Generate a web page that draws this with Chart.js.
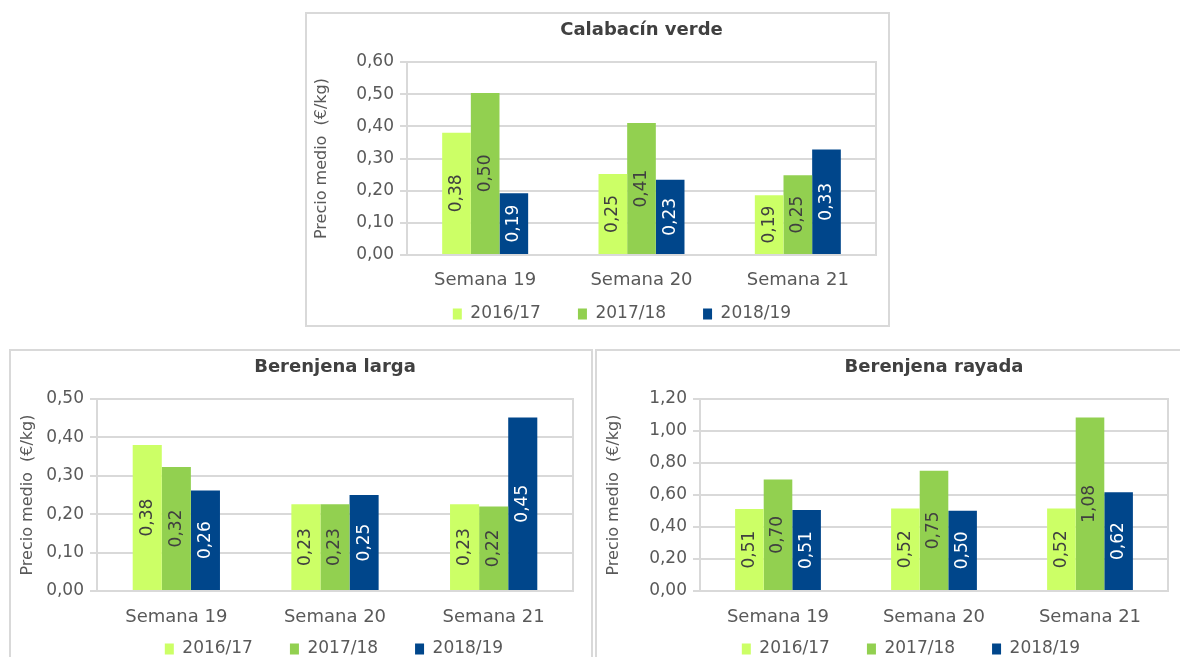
<!DOCTYPE html>
<html>
<head>
<meta charset="utf-8">
<script src="https://cdn.jsdelivr.net/npm/chart.js@4"></script>
<style>
body { margin: 0; background: #fff; width: 1180px; height: 657px; overflow: hidden; position: relative; }
.box { position: absolute; border: 2px solid #d9d9d9; box-sizing: border-box; }
canvas { position: absolute; }
</style>
</head>
<body>
<div class="box" style="left:305px;top:12px;width:585px;height:315px"></div>
<div class="box" style="left:9px;top:349px;width:584px;height:330px"></div>
<div class="box" style="left:595px;top:349px;width:600px;height:330px"></div>
<canvas id="calabacin" style="left:305px;top:12px"></canvas>
<canvas id="larga" style="left:10px;top:350px"></canvas>
<canvas id="rayada" style="left:596px;top:350px"></canvas>
<script>
const categories = ['Semana 19', 'Semana 20', 'Semana 21'];
const seasons = ['2016/17', '2017/18', '2018/19'];

const calabacin_1617 = [0.38, 0.252, 0.186];
const calabacin_1718 = [0.504, 0.41, 0.248];
const calabacin_1819 = [0.192, 0.234, 0.328];

const larga_1617 = [0.38, 0.226, 0.226];
const larga_1718 = [0.323, 0.226, 0.22];
const larga_1819 = [0.262, 0.25, 0.452];

const rayada_1617 = [0.512, 0.516, 0.516];
const rayada_1718 = [0.697, 0.752, 1.084];
const rayada_1819 = [0.506, 0.502, 0.617];

const seasonColors = ['#ccff66', '#92d050', '#00468b'];
const labelColors = ['#404040', '#404040', '#ffffff'];

const LEGEND_PAD = 37;
const X_AXIS_H = 40;

Chart.defaults.font.family = "'DejaVu Sans', sans-serif";

function fmt(v) {
    return (Math.round(v * 100) / 100).toFixed(2).replace('.', ',');
}

function bar_chart(id, title, s1, s2, s3, yMax, yStep, geo) {
    const canvas = document.getElementById(id);
    canvas.width = geo.w;
    canvas.height = geo.bottom + X_AXIS_H + 17 + LEGEND_PAD + 10;
    const ctx = canvas.getContext('2d');

    // light grey frame round the plot area
    const frame = {
        id: 'frame',
        beforeDatasetsDraw(chart) {
            const a = chart.chartArea, c = chart.ctx;
            c.save();
            c.strokeStyle = '#d9d9d9';
            c.lineWidth = 2;
            c.strokeRect(a.left, a.top, a.right - a.left, a.bottom - a.top);
            c.restore();
        }
    };
    // rotated value inside every bar
    const barValues = {
        id: 'barValues',
        afterDatasetsDraw(chart) {
            const c = chart.ctx;
            chart.data.datasets.forEach((ds, i) => {
                chart.getDatasetMeta(i).data.forEach((bar, j) => {
                    c.save();
                    c.translate(bar.x, (bar.y + bar.base) / 2);
                    c.rotate(-Math.PI / 2);
                    c.font = "17px 'DejaVu Sans'";
                    c.fillStyle = labelColors[i];
                    c.textAlign = 'center';
                    c.textBaseline = 'middle';
                    c.fillText(fmt(ds.data[j]), 0, 0);
                    c.restore();
                });
            });
        }
    };
    // move the legend row to where it sits in the original
    const legendShift = {
        id: 'legendShift',
        afterLayout(chart) {
            const lg = chart.legend;
            const s = geo.legendX - (lg.left + lg.right) / 2;
            lg.left += s;
            lg.right += s;
            lg.top = geo.legendY - 8.5 - LEGEND_PAD;
            lg.bottom = lg.top + lg.height;
        }
    };

    return new Chart(ctx, {
        type: 'bar',
        data: {
            labels: categories,
            datasets: [s1, s2, s3].map((d, i) => ({
                label: seasons[i],
                data: d,
                backgroundColor: seasonColors[i],
                borderWidth: 0,
                categoryPercentage: 0.55,
                barPercentage: 1
            }))
        },
        options: {
            responsive: false,
            animation: false,
            layout: { padding: { left: 0, right: geo.w - geo.right, top: geo.titleY - 10.8, bottom: 0 } },
            plugins: {
                title: {
                    display: true,
                    text: title,
                    fullSize: false,
                    color: '#404040',
                    font: { size: 18, weight: 'bold' },
                    padding: { top: 0, bottom: geo.top - (geo.titleY - 10.8) - 21.6 }
                },
                legend: {
                    position: 'bottom',
                    labels: { boxWidth: 9, boxHeight: 11, padding: LEGEND_PAD, color: '#595959', font: { size: 17 } }
                },
                tooltip: { enabled: false }
            },
            scales: {
                x: {
                    grid: { display: false, drawTicks: false },
                    border: { display: false },
                    ticks: { color: '#595959', font: { size: 18 }, padding: geo.xLabelY - geo.bottom - 10 },
                    afterFit: s => { s.height = X_AXIS_H; }
                },
                y: {
                    min: 0,
                    max: yMax,
                    ticks: { stepSize: yStep, color: '#595959', font: { size: 17 }, padding: 6, callback: v => fmt(v) },
                    grid: { color: '#d9d9d9', lineWidth: 2, tickLength: 7 },
                    border: { display: false },
                    title: {
                        display: true,
                        text: 'Precio medio  (€/kg)',
                        color: '#595959',
                        font: { size: 16 },
                        padding: { top: geo.yTitleX - 9.6, bottom: 0 }
                    },
                    afterFit: s => { s.width = geo.left; }
                }
            }
        },
        plugins: [frame, barValues, legendShift]
    });
}

bar_chart('calabacin', 'Calabacín verde', calabacin_1617, calabacin_1718, calabacin_1819, 0.6, 0.1,
    { w: 584, left: 102, right: 571, top: 50, bottom: 243, titleY: 18, xLabelY: 268, legendY: 302, legendX: 317, yTitleX: 17 });
bar_chart('larga', 'Berenjena larga', larga_1617, larga_1718, larga_1819, 0.5, 0.1,
    { w: 582, left: 87, right: 563, top: 49, bottom: 241, titleY: 17, xLabelY: 267, legendY: 299, legendX: 324, yTitleX: 18 });
bar_chart('rayada', 'Berenjena rayada', rayada_1617, rayada_1718, rayada_1819, 1.2, 0.2,
    { w: 584, left: 104, right: 572, top: 49, bottom: 241, titleY: 17, xLabelY: 267, legendY: 299, legendX: 315, yTitleX: 18 });
</script>
</body>
</html>
